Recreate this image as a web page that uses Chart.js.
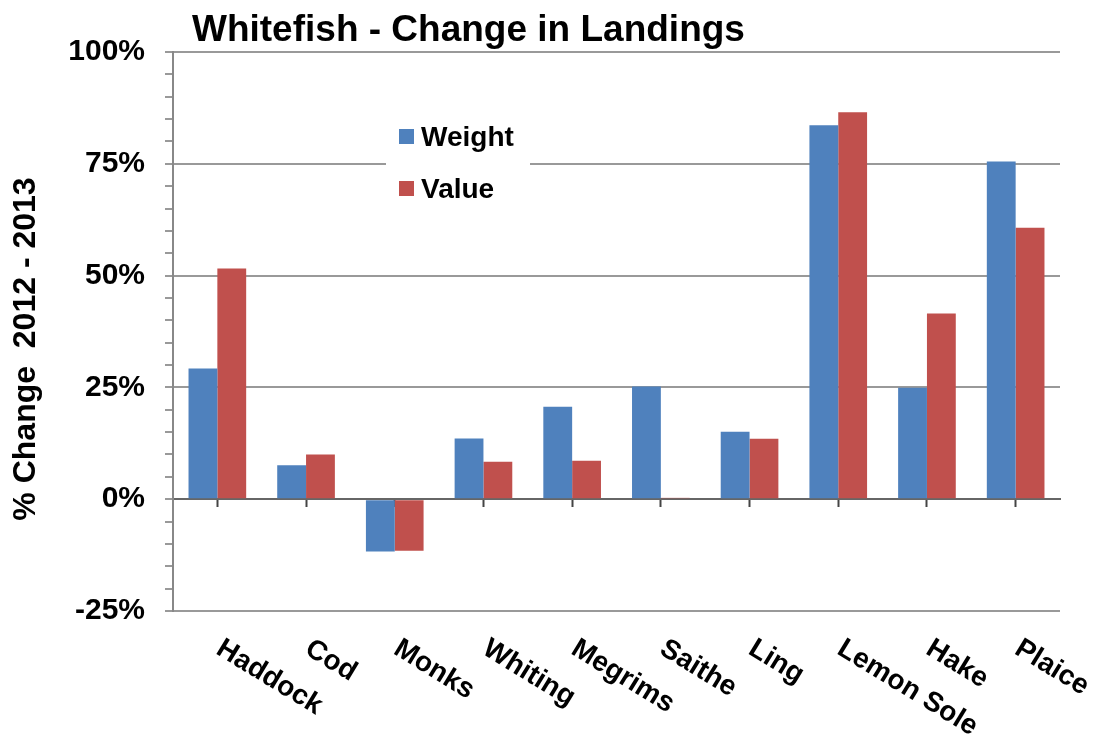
<!DOCTYPE html>
<html>
<head>
<meta charset="utf-8">
<title>Whitefish - Change in Landings</title>
<script src="https://cdn.jsdelivr.net/npm/chart.js@4/dist/chart.umd.min.js"></script>
<style>
  body { margin: 0; background: #fff; }
  #wrap { width: 1096px; height: 735px; }
</style>
</head>
<body>
<div id="wrap"><canvas id="chart" width="1096" height="735"></canvas></div>
<script>
'use strict';

/// data
const categories = ['Haddock', 'Cod', 'Monks', 'Whiting', 'Megrims', 'Saithe', 'Ling', 'Lemon Sole', 'Hake', 'Plaice'];
const weightChange = [29.2, 7.6, -11.7, 13.6, 20.7, 25.2, 15.1, 83.6, 24.9, 75.5];
const valueChange = [51.6, 10.0, -11.5, 8.4, 8.6, 0.3, 13.5, 86.5, 41.5, 60.7];
const seriesNames = ['Weight', 'Value'];
const yMin = -25, yMax = 100, yMajorStep = 25, yMinorStep = 5;

const FONT = "'Liberation Sans', Arial, sans-serif";
const blue = '#4F81BD';
const red = '#C0504D';

/// title, axis title, rotated category labels and legend
const extras = {
  id: 'extras',
  afterDraw(chart) {
    const ctx = chart.ctx;
    const x = chart.scales.x;
    const area = chart.chartArea;
    ctx.save();
    ctx.fillStyle = '#000';

    // title
    ctx.font = 'bold 37px ' + FONT;
    ctx.textAlign = 'left';
    ctx.textBaseline = 'alphabetic';
    ctx.fillText('Whitefish - Change in Landings', 192, 41);

    // y axis title
    ctx.save();
    ctx.translate(35, 349);
    ctx.rotate(-Math.PI / 2);
    ctx.font = 'bold 32px ' + FONT;
    ctx.textAlign = 'center';
    ctx.fillText('% Change  2012 - 2013', 0, 0);
    ctx.restore();

    // category labels, slanted down to the right
    const ang = 31.5 * Math.PI / 180;
    const size = 28;
    ctx.font = 'bold ' + size + 'px ' + FONT;
    ctx.textAlign = 'left';
    categories.forEach((c, i) => {
      const px = x.getPixelForValue(i) + 8;
      ctx.save();
      ctx.translate(px, area.bottom + 25);
      ctx.rotate(ang);
      ctx.fillText(c, 0, size * 0.716);
      ctx.restore();
    });

    // legend
    ctx.fillStyle = '#fff';
    ctx.fillRect(386, 108, 144, 104);
    ctx.font = 'bold 28px ' + FONT;
    chart.data.datasets.forEach((ds, i) => {
      const y = 129 + i * 52;
      ctx.fillStyle = ds.backgroundColor;
      ctx.fillRect(399, y, 15, 15);
      ctx.fillStyle = '#000';
      ctx.fillText(ds.label, 421, y + 17);
    });
    ctx.restore();
  },
};

new Chart(document.getElementById('chart'), {
  type: 'bar',
  data: {
    labels: categories,
    datasets: [
      { label: seriesNames[0], data: weightChange, backgroundColor: blue },
      { label: seriesNames[1], data: valueChange, backgroundColor: red },
    ],
  },
  options: {
    responsive: false,
    animation: false,
    layout: { padding: { left: 0, top: 52, right: 36, bottom: 124 } },
    categoryPercentage: 0.65,
    barPercentage: 1.0,
    plugins: {
      legend: { display: false },
      tooltip: { enabled: false },
    },
    scales: {
      x: {
        type: 'category',
        position: { y: 0 },
        grid: {
          offset: false,
          drawOnChartArea: false,
          drawTicks: true,
          tickLength: 7,
          tickColor: '#444',
          tickWidth: 2,
        },
        border: { display: true, color: '#666', width: 2 },
        ticks: { display: false },
      },
      y: {
        min: yMin,
        max: yMax,
        afterFit(scale) {
          scale.width = 173;
        },
        ticks: {
          stepSize: yMinorStep,
          autoSkip: false,
          padding: 20,
          color: '#000',
          font: { family: FONT, size: 30, weight: 'bold' },
          callback: (v) => (v % yMajorStep === 0 ? v + '%' : ''),
        },
        grid: {
          drawTicks: true,
          tickLength: 8,
          tickColor: '#777',
          tickWidth: 1.5,
          lineWidth: 2,
          color: (c) => {
            const v = c.tick ? c.tick.value : 0;
            if (v === 0) return 'rgba(0,0,0,0)';
            return v % yMajorStep === 0 ? '#999' : 'rgba(0,0,0,0)';
          },
        },
        border: { display: true, color: '#888', width: 2 },
      },
    },
  },
  plugins: [extras],
});
</script>
</body>
</html>
